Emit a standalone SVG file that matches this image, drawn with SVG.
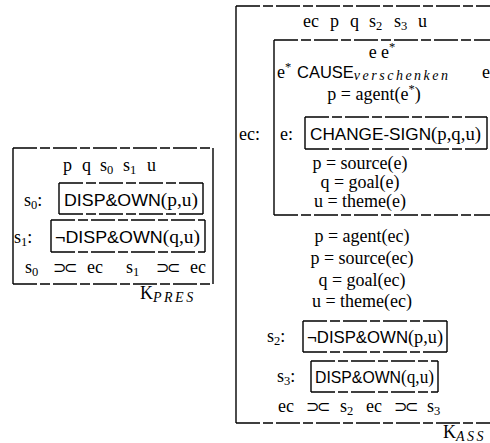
<svg xmlns="http://www.w3.org/2000/svg" width="490" height="443" viewBox="0 0 490 443">
<style>
text{font-family:"Liberation Serif","DejaVu Serif",serif;font-size:18px;fill:#000}
.c{text-anchor:middle}
.sf{font-family:"Liberation Sans","DejaVu Sans",sans-serif;font-size:16.5px}
.sub{font-size:12.5px}
.isub{font-size:14px;font-style:italic;letter-spacing:2.5px}
.ab{font-family:"DejaVu Sans",sans-serif;font-size:16px;letter-spacing:-2.5px}
.sol{stroke:#000;stroke-width:1.4;fill:none}
.dsh{stroke:#000;stroke-width:1.3;fill:none;stroke-dasharray:24 3 10 3}
</style>
<rect width="490" height="443" fill="#fff"/>
<g id="connectors"/>

<g id="kpres">
  <path class="dsh" d="M13 148H213M13 284H213"/>
  <path class="sol" d="M13 148V284M213 148V284"/>
  <text y="171"><tspan x="63">p</tspan><tspan x="82">q</tspan><tspan x="100">s</tspan><tspan class="sub" dy="3">0</tspan><tspan x="123" dy="-3">s</tspan><tspan class="sub" dy="3">1</tspan><tspan x="147" dy="-3">u</tspan></text>
  <g id="pres-s0">
    <text x="24" y="206">s<tspan class="sub" dy="3">0</tspan><tspan dy="-3">:</tspan></text>
    <path class="dsh" d="M59 183H203M59 214H203"/>
    <path class="sol" d="M59 183V214M203 183V214"/>
    <text x="64" y="206" textLength="134" lengthAdjust="spacingAndGlyphs"><tspan class="sf">DISP&amp;OWN</tspan>(p,u)</text>
  </g>
  <g id="pres-s1">
    <text x="14" y="243">s<tspan class="sub" dy="3">1</tspan><tspan dy="-3">:</tspan></text>
    <path class="dsh" d="M51 220H205M51 252H205"/>
    <path class="sol" d="M51 220V252M205 220V252"/>
    <text x="55" y="243" textLength="145" lengthAdjust="spacingAndGlyphs"><tspan class="sf">¬DISP&amp;OWN</tspan>(q,u)</text>
  </g>
  <text x="25" y="273">s<tspan class="sub" dy="3">0</tspan></text>
  <text x="53" y="273" class="ab">⊃⊂</text>
  <text x="87" y="273">ec</text>
  <text x="126" y="273">s<tspan class="sub" dy="3">1</tspan></text>
  <text x="156" y="273" class="ab">⊃⊂</text>
  <text x="190" y="273">ec</text>
  <text x="140" y="299">K<tspan class="isub" dy="3">PRES</tspan></text>
</g>

<g id="kass">
  <path class="dsh" d="M236 6H490M236 423H490"/>
  <path class="sol" d="M236 6V423"/>
  <text y="27"><tspan x="303">ec</tspan><tspan x="330">p</tspan><tspan x="350">q</tspan><tspan x="369">s</tspan><tspan class="sub" dy="3">2</tspan><tspan x="394" dy="-3">s</tspan><tspan class="sub" dy="3">3</tspan><tspan x="418" dy="-3">u</tspan></text>
  <text x="239" y="140">ec:</text>
  <g id="ke">
    <path class="dsh" d="M274 40H490M274 215H490"/>
    <path class="sol" d="M274 40V215"/>
    <text x="382" y="58" class="c">e e<tspan class="sub" dy="-7">*</tspan></text>
    <text x="277" y="78">e<tspan class="sub" dy="-7">*</tspan></text>
    <text x="297" y="78"><tspan class="sf" font-size="17px">CAUSE</tspan><tspan class="isub" dy="2" letter-spacing="4px">verschenken</tspan></text>
    <text x="482" y="78">e</text>
    <text x="374" y="100" class="c">p = agent(e<tspan class="sub" dy="-7">*</tspan><tspan dy="7">)</tspan></text>
    <g id="ke-e">
      <text x="280" y="140">e:</text>
      <path class="dsh" d="M305 117H487M305 149H487"/>
      <path class="sol" d="M305 117V149M487 117V149"/>
      <text x="310" y="140" textLength="171" lengthAdjust="spacingAndGlyphs"><tspan class="sf">CHANGE-SIGN</tspan>(p,q,u)</text>
    </g>
    <text x="360" y="169" class="c">p = source(e)</text>
    <text x="360" y="188" class="c">q = goal(e)</text>
    <text x="360" y="207" class="c">u = theme(e)</text>
  </g>
  <text x="362" y="242" class="c">p = agent(ec)</text>
  <text x="362" y="264" class="c">p = source(ec)</text>
  <text x="362" y="286" class="c">q = goal(ec)</text>
  <text x="362" y="307" class="c">u = theme(ec)</text>
  <g id="ass-s2">
    <text x="267" y="342">s<tspan class="sub" dy="3">2</tspan><tspan dy="-3">:</tspan></text>
    <path class="dsh" d="M303 321H447M303 352H447"/>
    <path class="sol" d="M303 321V352M447 321V352"/>
    <text x="307" y="343" textLength="136" lengthAdjust="spacingAndGlyphs"><tspan class="sf">¬DISP&amp;OWN</tspan>(p,u)</text>
  </g>
  <g id="ass-s3">
    <text x="277" y="382">s<tspan class="sub" dy="3">3</tspan><tspan dy="-3">:</tspan></text>
    <path class="dsh" d="M311 361H438M311 392H438"/>
    <path class="sol" d="M311 361V392M438 361V392"/>
    <text x="315" y="383" textLength="119" lengthAdjust="spacingAndGlyphs"><tspan class="sf">DISP&amp;OWN</tspan>(q,u)</text>
  </g>
  <text x="278" y="412">ec</text>
  <text x="306" y="412" class="ab">⊃⊂</text>
  <text x="340" y="412">s<tspan class="sub" dy="3">2</tspan></text>
  <text x="366" y="412">ec</text>
  <text x="394" y="412" class="ab">⊃⊂</text>
  <text x="427" y="412">s<tspan class="sub" dy="3">3</tspan></text>
  <text x="443" y="438">K<tspan class="isub" dy="3">ASS</tspan></text>
</g>
</svg>
